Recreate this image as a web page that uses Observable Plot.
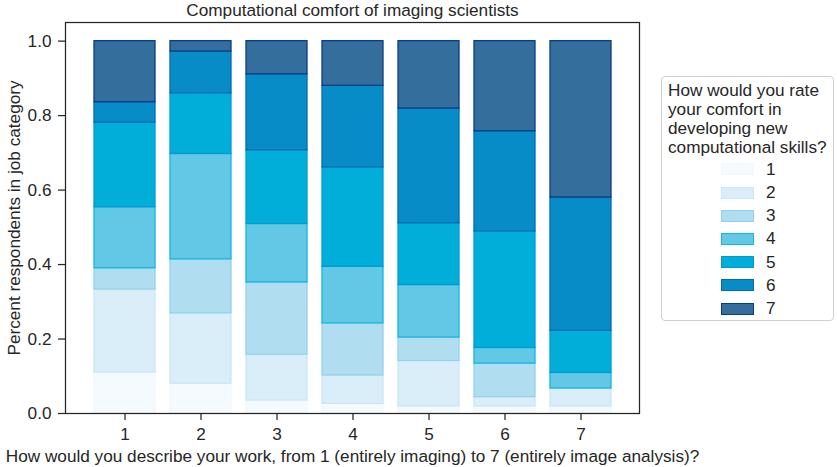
<!DOCTYPE html>
<html>
<head>
<meta charset="utf-8">
<script src="https://cdn.jsdelivr.net/npm/d3@7"></script>
<script src="https://cdn.jsdelivr.net/npm/@observablehq/plot@0.6"></script>
<style>
  body { margin: 0; background: #fff; font-family: "Liberation Sans", Arial, sans-serif; }
  #wrap { position: relative; width: 837px; height: 467px; }
  #legend { position: absolute; left: 661px; top: 76px; width: 173px; height: 245px;
            border: 1px solid #d0d0d0; border-radius: 4px; background: #fff; box-sizing: border-box; color: #262626; }
  #legend .ttl { position: absolute; left: 6px; top: 4px; font-size: 17.2px; line-height: 19px; white-space: nowrap; }
  #legend .sw { position: absolute; width: 33px; height: 12px; box-sizing: border-box; border: 1.3px solid; }
  #legend .lb { position: absolute; font-size: 17.2px; line-height: 18px; }
</style>
</head>
<body>
<div id="wrap"></div>
<script>
const title = "Computational comfort of imaging scientists";
const xLabel = "How would you describe your work, from 1 (entirely imaging) to 7 (entirely image analysis)?";
const yLabel = "Percent respondents in job category";
const legendTitle = ["How would you rate", "your comfort in", "developing new", "computational skills?"];

const workCategories = [1, 2, 3, 4, 5, 6, 7];
const comfortLevels = [1, 2, 3, 4, 5, 6, 7];

// fraction of respondents in each job category (1..7) at each comfort level
const comfort1 = [0.110, 0.080, 0.035, 0.026, 0.019, 0.019, 0.019];
const comfort2 = [0.223, 0.189, 0.123, 0.076, 0.122, 0.025, 0.048];
const comfort3 = [0.057, 0.145, 0.194, 0.140, 0.063, 0.090, 0.000];
const comfort4 = [0.164, 0.283, 0.157, 0.152, 0.141, 0.042, 0.042];
const comfort5 = [0.227, 0.163, 0.198, 0.267, 0.166, 0.313, 0.113];
const comfort6 = [0.055, 0.112, 0.204, 0.219, 0.308, 0.269, 0.358];
const comfort7 = [0.164, 0.028, 0.089, 0.120, 0.181, 0.242, 0.420];

const fillColors   = ["#f5fafe", "#daeef9", "#b0def0", "#62c8e6", "#00aed9", "#088cc7", "#336e9c"];
const strokeColors = ["#f0f7fd", "#c9e7f6", "#92d3ec", "#12b6e2", "#009bcf", "#006cb1", "#0a3d85"];
const yTicks = [0, 0.2, 0.4, 0.6, 0.8, 1.0];

const series = [comfort1, comfort2, comfort3, comfort4, comfort5, comfort6, comfort7];
const rows = [];
comfortLevels.forEach((lvl, i) => {
  workCategories.forEach((w, j) => rows.push({work: w, comfort: lvl, frac: series[i][j]}));
});

const font = "'Liberation Sans', Arial, sans-serif";
const ink = "#262626";
const fs = 17.2;

const chart = Plot.plot({
  width: 837,
  height: 467,
  marginLeft: 65,
  marginRight: 198,
  marginTop: 22,
  marginBottom: 54,
  style: {fontFamily: font, fontSize: fs + "px", color: ink, background: "#fff", overflow: "visible"},
  x: {type: "band", domain: workCategories, paddingInner: 0.2, paddingOuter: 0.35, label: null},
  y: {domain: [0, 1.05], label: null},
  color: {type: "identity"},
  marks: [
    Plot.barY(rows, {
      x: "work", y: "frac", z: "comfort",
      fill: d => fillColors[d.comfort - 1],
      stroke: d => strokeColors[d.comfort - 1],
      strokeWidth: 1.3
    }),
    Plot.axisX({tickSize: 7, tickPadding: 7, stroke: ink, fill: ink, strokeWidth: 1.25, label: null, fontSize: fs}),
    Plot.axisY({ticks: yTicks, tickFormat: d3.format(".1f"), tickSize: 7, tickPadding: 7, stroke: ink, fill: ink, strokeWidth: 1.25, label: null, fontSize: fs}),
    Plot.frame({stroke: ink, strokeWidth: 1.25}),
    Plot.text([title], {text: d => d, frameAnchor: "top", dy: -12.5, fontSize: fs, fill: ink, textAnchor: "middle", lineAnchor: "middle"}),
    Plot.text([xLabel], {text: d => d, frameAnchor: "bottom", dy: 43, fontSize: fs, fill: ink, textAnchor: "middle", lineAnchor: "middle"}),
    Plot.text([yLabel], {text: d => d, frameAnchor: "left", dx: -51, rotate: -90, fontSize: fs, fill: ink, textAnchor: "middle", lineAnchor: "middle"})
  ]
});

const wrap = document.getElementById("wrap");
wrap.appendChild(chart);

// legend
const legend = document.createElement("div");
legend.id = "legend";
const ttl = document.createElement("div");
ttl.className = "ttl";
ttl.innerHTML = legendTitle.join("<br>");
legend.appendChild(ttl);
comfortLevels.forEach((lvl, i) => {
  const cy = 168.3 + i * 23.2 - 76;
  const sw = document.createElement("div");
  sw.className = "sw";
  sw.style.left = (720 - 661) + "px";
  sw.style.top = (cy - 6) + "px";
  sw.style.background = fillColors[i];
  sw.style.borderColor = strokeColors[i];
  legend.appendChild(sw);
  const lb = document.createElement("div");
  lb.className = "lb";
  lb.style.left = (765 - 661) + "px";
  lb.style.top = (cy - 9.5) + "px";
  lb.textContent = String(lvl);
  legend.appendChild(lb);
});
wrap.appendChild(legend);
</script>
</body>
</html>
